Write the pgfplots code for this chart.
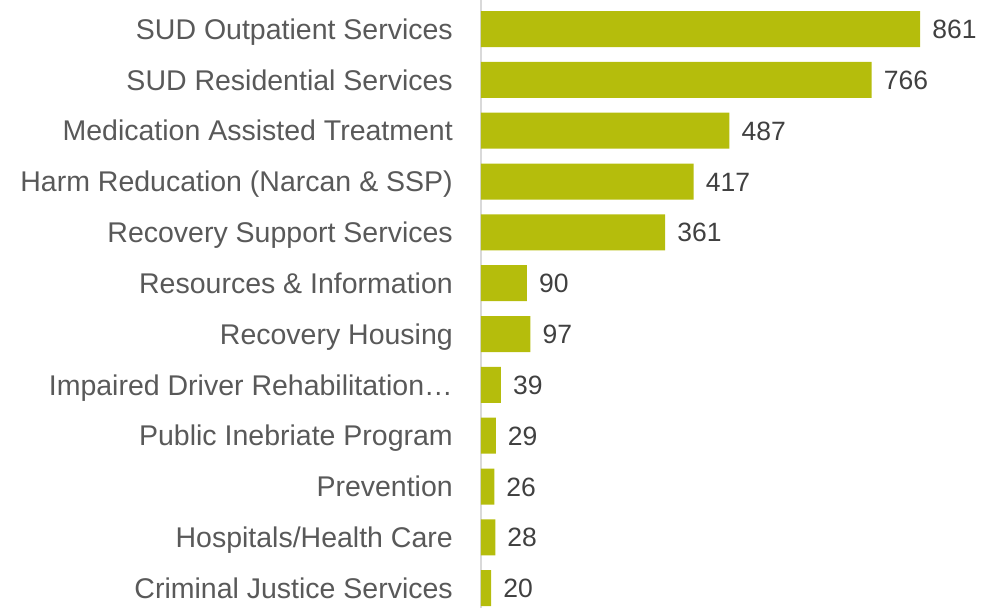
\documentclass[border=0pt]{standalone}
\usepackage{fontspec}
\setmainfont{Liberation Sans}
\usepackage{pgfplots}
\pgfplotsset{compat=1.18}
\definecolor{barcol}{RGB}{181,189,12}
\definecolor{labgray}{RGB}{89,89,89}
\definecolor{numgray}{RGB}{64,64,64}
\definecolor{linegray}{RGB}{217,217,217}
\begin{document}
\begin{tikzpicture}
\useasboundingbox (-481pt,0pt) rectangle (516pt,608pt);
\begin{axis}[
    xbar,
    scale only axis,
    width=516pt,
    height=608pt,
    xmin=0, xmax=1011.8,
    ymin=-0.571, ymax=11.39,
    y dir=reverse,
    bar width=36pt,
    axis y line*=left,
    axis x line*=bottom,
    x axis line style={draw=none},
    y axis line style={-, draw=linegray, line width=1.2pt},
    xtick=\empty,
    ytick={0,...,11},
    yticklabels={SUD Outpatient Services, SUD Residential Services, Medication Assisted Treatment, Harm Reducation (Narcan \& SSP), Recovery Support Services, Resources \& Information, Recovery Housing, Impaired Driver Rehabilitation…, Public Inebriate Program, Prevention, Hospitals/Health Care, Criminal Justice Services},
    major tick length=0pt,
    yticklabel style={font=\fontsize{28.5}{32}\selectfont, text=labgray, inner sep=0pt, anchor=east, text height=20.4pt, text depth=0pt, xshift=-28pt},
    /pgf/number format/assume math mode=true,
    nodes near coords,
    nodes near coords style={font=\fontsize{26.5}{30}\selectfont, text=numgray, anchor=west, inner sep=0pt, text height=19pt, text depth=0pt, xshift=12pt},
    clip=false,
]
\addplot[fill=barcol, draw=none] coordinates {
(861,0) (766,1) (487,2) (417,3) (361,4) (90,5) (97,6) (39,7) (29,8) (26,9) (28,10) (20,11)
};
\end{axis}
\end{tikzpicture}
\end{document}
